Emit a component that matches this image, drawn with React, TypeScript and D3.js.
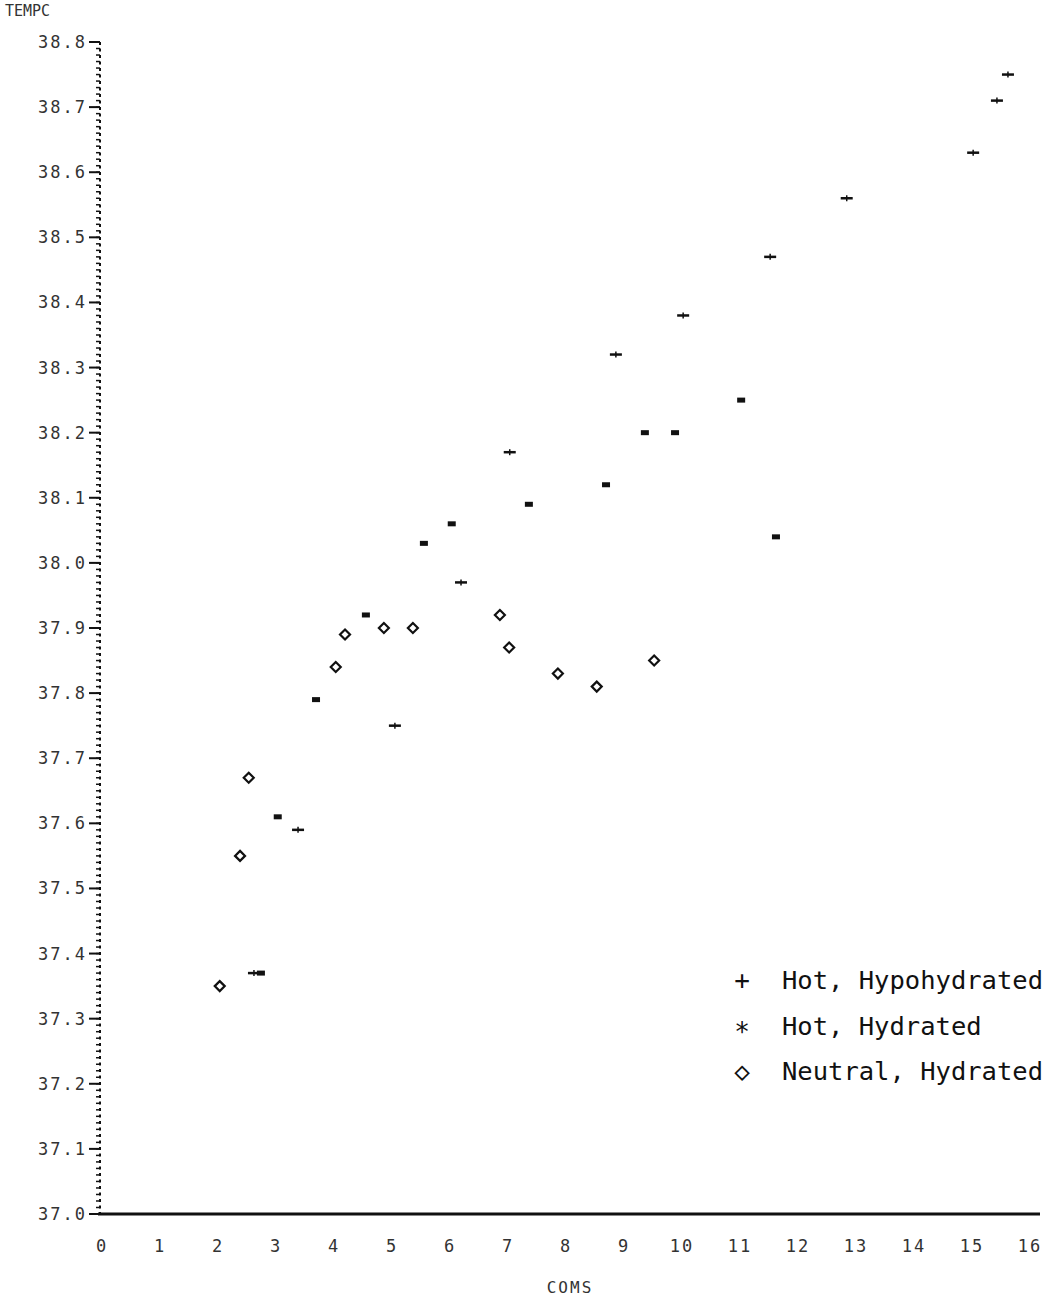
import { useEffect, useRef } from 'react';
import * as d3 from 'd3';

// data
const hypoX = [15.62, 15.43, 15.02, 12.84, 11.52, 10.02, 8.86, 7.03, 6.19, 5.05, 3.38, 2.62];
const hypoY = [38.75, 38.71, 38.63, 38.56, 38.47, 38.38, 38.32, 38.17, 37.97, 37.75, 37.59, 37.37];

const hydX = [3.69, 3.03, 4.55, 5.55, 6.03, 7.36, 8.69, 9.36, 9.88, 11.02, 11.62, 2.74];
const hydY = [37.79, 37.61, 37.92, 38.03, 38.06, 38.09, 38.12, 38.20, 38.20, 38.25, 38.04, 37.37];

const neutX = [2.03, 2.38, 2.53, 4.03, 4.19, 4.86, 5.36, 6.86, 7.02, 7.86, 8.53, 9.52];
const neutY = [37.35, 37.55, 37.67, 37.84, 37.89, 37.90, 37.90, 37.92, 37.87, 37.83, 37.81, 37.85];

const xTicks = [0, 1, 2, 3, 4, 5, 6, 7, 8, 9, 10, 11, 12, 13, 14, 15, 16];
const yTicks = [37.0, 37.1, 37.2, 37.3, 37.4, 37.5, 37.6, 37.7, 37.8, 37.9, 38.0, 38.1, 38.2, 38.3, 38.4, 38.5, 38.6, 38.7, 38.8];

const legendLabels = ['Hot, Hypohydrated', 'Hot, Hydrated', 'Neutral, Hydrated'];

export default function App() {
    const chartRef = useRef<SVGSVGElement>(null);

    useEffect(() => {
        const width = 1063;
        const height = 1303;

        const x = d3.scaleLinear().domain([0, 16]).range([102, 1030]);
        const y = d3.scaleLinear().domain([37.0, 38.8]).range([1214, 42]);

        const svg = d3.select(chartRef.current)
            .attr('width', width)
            .attr('height', height);
        svg.selectAll('*').remove();

        const ink = '#111';
        const tickFont = '"DejaVu Sans Mono", monospace';

        // y axis, dotted with minor ticks
        svg.append('line')
            .attr('x1', 100).attr('x2', 100)
            .attr('y1', y(38.8)).attr('y2', y(37.0))
            .attr('stroke', ink).attr('stroke-width', 2)
            .attr('stroke-dasharray', '3,3.5');

        const minor = d3.range(0, 181).map(i => 37.0 + i * 0.01);
        svg.append('g').selectAll('line')
            .data(minor)
            .enter()
            .append('line')
            .attr('x1', 96).attr('x2', 100)
            .attr('y1', d => y(d)).attr('y2', d => y(d))
            .attr('stroke', ink).attr('stroke-width', 1.5);

        svg.append('g').selectAll('line')
            .data(yTicks)
            .enter()
            .append('line')
            .attr('x1', 89).attr('x2', 100)
            .attr('y1', d => y(d)).attr('y2', d => y(d))
            .attr('stroke', ink).attr('stroke-width', 2);

        svg.append('g').selectAll('text')
            .data(yTicks)
            .enter()
            .append('text')
            .attr('x', 87)
            .attr('y', d => y(d) + 6)
            .attr('text-anchor', 'end')
            .attr('font-family', tickFont)
            .attr('font-size', 17)
            .attr('letter-spacing', 2)
            .attr('fill', '#333')
            .text(d => d.toFixed(1));

        svg.append('text')
            .attr('x', 5).attr('y', 16)
            .attr('font-family', tickFont)
            .attr('font-size', 15)
            .attr('fill', '#333')
            .text('TEMPC');

        // x axis
        svg.append('line')
            .attr('x1', 98).attr('x2', 1040)
            .attr('y1', 1214).attr('y2', 1214)
            .attr('stroke', ink).attr('stroke-width', 3);

        svg.append('g').selectAll('text')
            .data(xTicks)
            .enter()
            .append('text')
            .attr('x', d => x(d))
            .attr('y', 1252)
            .attr('text-anchor', 'middle')
            .attr('font-family', tickFont)
            .attr('font-size', 17)
            .attr('letter-spacing', 2)
            .attr('fill', '#333')
            .text(d => String(d));

        svg.append('text')
            .attr('x', 570).attr('y', 1293)
            .attr('text-anchor', 'middle')
            .attr('font-family', tickFont)
            .attr('font-size', 16)
            .attr('letter-spacing', 2)
            .attr('fill', '#333')
            .text('COMS');

        // markers
        const plus = (g: any, px: number, py: number) => {
            g.append('line').attr('x1', px - 6).attr('x2', px + 6).attr('y1', py).attr('y2', py)
                .attr('stroke', ink).attr('stroke-width', 2.5);
            g.append('line').attr('x1', px).attr('x2', px).attr('y1', py - 3).attr('y2', py + 3)
                .attr('stroke', ink).attr('stroke-width', 1.5);
        };
        const star = (g: any, px: number, py: number) => {
            g.append('rect').attr('x', px - 4).attr('y', py - 2.5).attr('width', 8).attr('height', 5)
                .attr('fill', ink);
        };
        const diamond = (g: any, px: number, py: number) => {
            g.append('path')
                .attr('d', `M${px},${py - 5}L${px + 5},${py}L${px},${py + 5}L${px - 5},${py}Z`)
                .attr('fill', 'none').attr('stroke', ink).attr('stroke-width', 2.2);
        };

        const pts = svg.append('g');
        hypoX.forEach((v, i) => plus(pts, x(v), y(hypoY[i])));
        hydX.forEach((v, i) => star(pts, x(v), y(hydY[i])));
        neutX.forEach((v, i) => diamond(pts, x(v), y(neutY[i])));

        // legend
        const legend = svg.append('g');
        const legendFont = '"DejaVu Sans Mono", monospace';
        legendLabels.forEach((label, i) => {
            const ly = 980 + i * 45.5;
            if (i === 0) {
                legend.append('text').attr('x', 742).attr('y', ly + 9).attr('text-anchor', 'middle')
                    .attr('font-family', legendFont).attr('font-size', 26).attr('fill', ink).text('+');
            } else if (i === 1) {
                legend.append('text').attr('x', 742).attr('y', ly + 15).attr('text-anchor', 'middle')
                    .attr('font-family', legendFont).attr('font-size', 26).attr('fill', ink).text('*');
            } else {
                legend.append('text').attr('x', 742).attr('y', ly + 9).attr('text-anchor', 'middle')
                    .attr('font-family', legendFont).attr('font-size', 26).attr('fill', ink).text('\u25C7');
            }
            legend.append('text')
                .attr('x', 782).attr('y', ly + 9)
                .attr('font-family', legendFont)
                .attr('font-size', 25.5)
                .attr('fill', ink)
                .text(label);
        });
    }, []);

    return (
        <svg ref={chartRef} style={{ position: 'absolute', left: 0, top: 0, background: '#fff' }}></svg>
    );
}
